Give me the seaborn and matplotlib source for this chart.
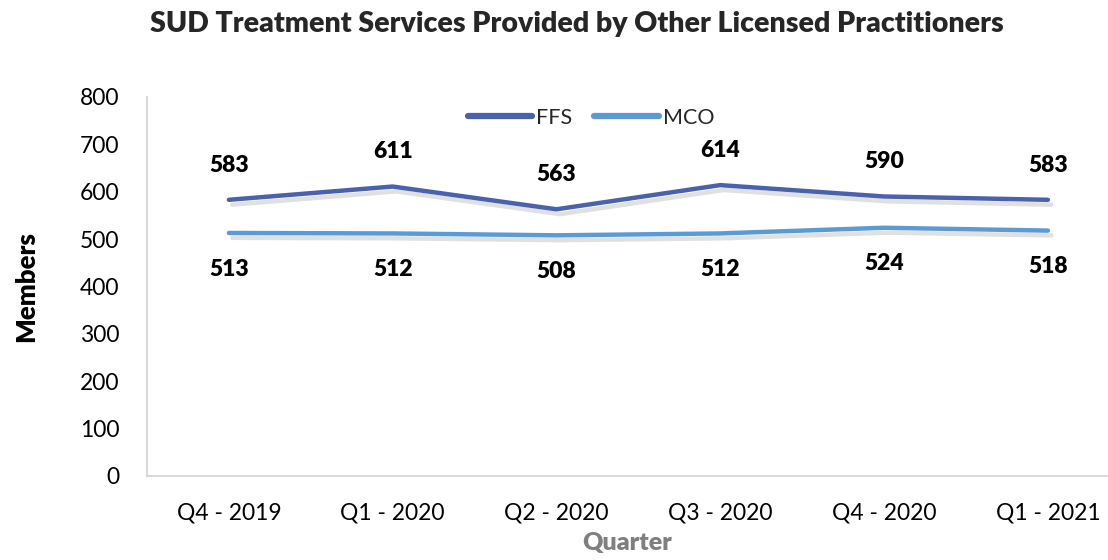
import matplotlib
matplotlib.use("Agg")
import matplotlib.pyplot as plt
import matplotlib.patheffects as pe
import seaborn as sns
import pandas as pd

quarters = ["Q4 - 2019", "Q1 - 2020", "Q2 - 2020", "Q3 - 2020", "Q4 - 2020", "Q1 - 2021"]
ffs = [583, 611, 563, 614, 590, 583]
mco = [513, 512, 508, 512, 524, 518]

df = pd.DataFrame({
    "Quarter": quarters * 2,
    "Members": ffs + mco,
    "Series": ["FFS"] * len(quarters) + ["MCO"] * len(quarters),
})

sns.set_theme(style="white")
plt.rcParams["font.family"] = ["Lato", "DejaVu Sans"]

fig = plt.figure(figsize=(11.08, 5.6), dpi=100)
ax = fig.add_axes([147 / 1108, 84 / 560, 961 / 1108, 379 / 560])

palette = {"FFS": "#4A62AE", "MCO": "#5B9BD5"}
sns.lineplot(data=df, x="Quarter", y="Members", hue="Series", palette=palette,
             linewidth=3.2, ax=ax, sort=False)
shadow = [pe.SimpleLineShadow(offset=(2.5, -3.5), shadow_color="#999999", alpha=0.3), pe.Normal()]
for line in ax.get_lines():
    line.set_path_effects(shadow)
    line.set_solid_capstyle("round")

for i, v in enumerate(ffs):
    ax.annotate(str(v), (i, v), xytext=(0, 25), textcoords="offset points",
                ha="center", va="center", fontsize=16.5, fontweight="heavy", color="black")
for i, v in enumerate(mco):
    ax.annotate(str(v), (i, v), xytext=(0, -26), textcoords="offset points",
                ha="center", va="center", fontsize=16.5, fontweight="heavy", color="black")

ax.set_ylim(0, 800)
ax.set_yticks(range(0, 801, 100))
ax.set_xlim(-0.5, 5.367)
ax.tick_params(axis="both", labelsize=16.5, colors="black", length=0)
ax.tick_params(axis="x", pad=19)
ax.tick_params(axis="y", pad=20)
for s in ["top", "right"]:
    ax.spines[s].set_visible(False)
for s in ["left", "bottom"]:
    ax.spines[s].set_color("#d9d9d9")
    ax.spines[s].set_linewidth(1.5)

ax.set_ylabel("Members", fontsize=18.5, fontweight="heavy", color="black", labelpad=30)
ax.set_xlabel("Quarter", fontsize=18, fontweight="heavy", color="#7f7f7f", labelpad=6)

leg = ax.legend(loc="center", bbox_to_anchor=(0.462, 0.945), ncol=2, frameon=False,
                fontsize=15.5, handlelength=3.0, columnspacing=1.0, handletextpad=0.2)
for h in leg.get_lines():
    h.set_path_effects([])
    h.set_linewidth(4.5)
    h.set_solid_capstyle("round")

fig.text(0.521, 0.958, "SUD Treatment Services Provided by Other Licensed Practitioners",
         ha="center", va="center", fontsize=20.5, fontweight="heavy")

fig.savefig("out.png", dpi=100)
